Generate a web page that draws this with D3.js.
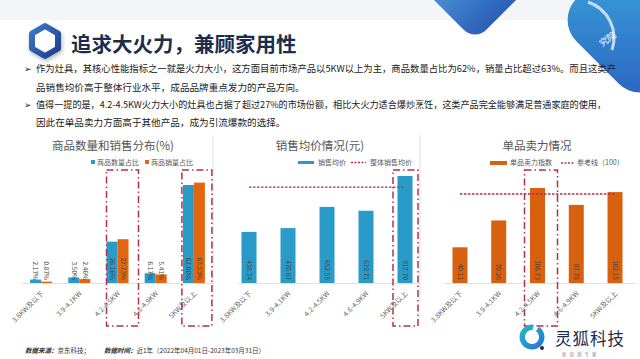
<!DOCTYPE html>
<html><head><meta charset="utf-8">
<script src="https://cdn.jsdelivr.net/npm/d3@7"></script>
<style>
html,body{margin:0;padding:0;background:#fff;}
svg{display:block;font-family:"Noto Sans CJK SC","Noto Sans",sans-serif;}
</style></head>
<body><svg id="c" width="640" height="359"></svg>
<script>
// ---------- data ----------
const categories = ["3.8KW及以下","3.9-4.1KW","4.2-4.5KW","4.6-4.9KW","5KW及以上"];
const countShare = [2.17, 3.50, 26.16, 6.17, 62.00];   // 商品数量占比 (%)
const salesShare = [0.87, 2.46, 27.73, 5.41, 63.53];   // 商品销量占比 (%)
const avgPrice   = [438.34, 470.87, 652.55, 619.71, 917.70]; // 销售均价 (元)
const overallAvgPrice = 823;                            // 整体销售均价 (estimated)
const powerIndex = [40.11, 70.26, 106.73, 87.76, 102.15]; // 单品卖力指数
const referenceLine = 100;
const titleText = "追求大火力，兼顾家用性";
const bulletLines = [
  ["➢","作为灶具，其核心性能指标之一就是火力大小，这方面目前市场产品以5KW以上为主，商品数量占比为62%，销量占比超过63%。而且这类产"],
  ["","品销售均价高于整体行业水平，成品品牌重点发力的产品方向。"],
  ["➢","值得一提的是，4.2-4.5KW火力大小的灶具也占据了超过27%的市场份额，相比大火力适合爆炒烹饪，这类产品完全能够满足普通家庭的使用，"],
  ["","因此在单品卖力方面高于其他产品，成为引流爆款的选择。"]
];

const BLUE = "#2a9bc8", ORANGE = "#e2660f", ORANGE3 = "#d8600f", BOXRED = "#b3304c";
const svg = d3.select("#c");

// ---------- decorations ----------
const defs = svg.append("defs");
const g2 = defs.append("linearGradient").attr("id","gDeco2").attr("x1","0").attr("y1","0").attr("x2","1").attr("y2","1");
g2.append("stop").attr("offset","0").attr("stop-color","#3fb0e0");
g2.append("stop").attr("offset","1").attr("stop-color","#2a62c0");
const g5 = defs.append("linearGradient").attr("id","gTop").attr("x1","0").attr("y1","0").attr("x2","1").attr("y2","0");
g5.append("stop").attr("offset","0").attr("stop-color","#5aa8ea");
g5.append("stop").attr("offset","1").attr("stop-color","#2b5fb6");
const g3 = defs.append("linearGradient").attr("id","gHex").attr("x1","0").attr("y1","0").attr("x2","1").attr("y2","1");
g3.append("stop").attr("offset","0").attr("stop-color","#3a78d0");
g3.append("stop").attr("offset","1").attr("stop-color","#1c3f86");
const g4 = defs.append("linearGradient").attr("id","gLogo").attr("x1","0").attr("y1","0").attr("x2","1").attr("y2","1");
g4.append("stop").attr("offset","0").attr("stop-color","#1fc0c0");
g4.append("stop").attr("offset","1").attr("stop-color","#2a6fd0");
const sh = defs.append("filter").attr("id","shadow").attr("x","-50%").attr("y","-50%").attr("width","200%").attr("height","200%");
sh.append("feDropShadow").attr("dx",1).attr("dy",2).attr("stdDeviation",2).attr("flood-color","#000").attr("flood-opacity",0.3);

// top background tint
svg.append("rect").attr("x",0).attr("y",0).attr("width",640).attr("height",20).attr("fill","#f4f5f7");
// rounded downward-pointing shape at top centre (same construct as the right-hand shape)
svg.append("rect").attr("x",-46).attr("y",-46).attr("width",92).attr("height",92).attr("rx",16)
  .attr("fill","url(#gTop)").attr("transform","translate(475,-24) rotate(45)");
// right circle shape
svg.append("rect").attr("x",-60).attr("y",-60).attr("width",120).attr("height",120).attr("rx",30)
  .attr("fill","url(#gDeco2)").attr("transform","translate(640,20) rotate(45)");
svg.append("path").attr("d","M 588 2 A 38 38 0 0 1 612 50").attr("fill","none").attr("stroke","#fff").attr("stroke-opacity",0.7).attr("stroke-width",3);
svg.append("text").attr("x",602).attr("y",47).attr("fill","#fff").attr("font-size",9).attr("transform","rotate(-35,602,47)").text("究院");

// hexagon icon
const hexPts = d3.range(6).map(i=>{const a=Math.PI/3*i - Math.PI/2; return [45+15*Math.cos(a), 41+15*Math.sin(a)];});
svg.append("polygon").attr("points",hexPts.map(p=>p.join(",")).join(" "))
  .attr("fill","#fff").attr("stroke","url(#gHex)").attr("stroke-width",6).attr("stroke-linejoin","round").attr("filter","url(#shadow)");

svg.append("text").attr("x",71).attr("y",52).attr("font-size",20.5).attr("font-weight","bold")
  .attr("fill","#1c2d4c").text(titleText);

// bullets
const lineY = [72, 91, 108, 126];
bulletLines.forEach((l,i)=>{
  if(l[0]) svg.append("text").attr("x",24).attr("y",lineY[i]).attr("font-size",9).attr("fill","#222").attr("font-family","DejaVu Sans").text(l[0]);
  const t = svg.append("text").attr("x",36).attr("y",lineY[i]).attr("font-size",9.6).attr("fill","#222").text(l[1]);
  if(i===0) t.attr("textLength",580).attr("lengthAdjust","spacingAndGlyphs");
  if(i===2) t.attr("textLength",570).attr("lengthAdjust","spacingAndGlyphs");
});

// separators
[213, 420].forEach(x=>svg.append("line").attr("x1",x).attr("x2",x).attr("y1",135).attr("y2",300).attr("stroke","#e2e2e2").attr("stroke-width",1));

const baseY = 283;
function xAxisLabels(x, x0, x1){
  svg.append("line").attr("x1",x0).attr("x2",x1).attr("y1",baseY+0.5).attr("y2",baseY+0.5).attr("stroke","#e0e0e0");
  categories.forEach(c=>{
    const cx = x(c)+x.bandwidth()/2 + 3;
    svg.append("text").attr("transform",`translate(${cx},${baseY+11}) rotate(-45)`)
      .attr("text-anchor","end").attr("font-size",7).attr("fill","#666").text(c);
  });
}
function box(x, cat, dl, dr){
  const cx = x(cat)+x.bandwidth()/2;
  svg.append("rect").attr("x",cx+dl).attr("y",170).attr("width",dr-dl).attr("height",156)
    .attr("fill","none").attr("stroke",BOXRED).attr("stroke-width",1.5).attr("stroke-dasharray","7,3,1.5,3");
}
function vlabel(x, y, txt){
  svg.append("text").attr("transform",`translate(${x},${y}) rotate(90)`)
    .attr("text-anchor","end").attr("dy","0.35em").attr("font-size",6.5).attr("fill","#444").text(txt);
}

// ---------- chart 1 ----------
const x1 = d3.scaleBand().domain(categories).range([22,213]);
const y1 = d3.scaleLinear().domain([0,100]).range([baseY, baseY-158]);
const bw1 = 11;
svg.append("text").attr("x",113).attr("y",150).attr("text-anchor","middle").attr("font-size",11.5).attr("fill","#555").text("商品数量和销售分布(%)");
svg.append("rect").attr("x",91).attr("y",160).attr("width",4).attr("height",4).attr("fill",BLUE);
svg.append("text").attr("x",97).attr("y",165).attr("font-size",7).attr("fill","#555").text("商品数量占比");
svg.append("rect").attr("x",145).attr("y",160).attr("width",4).attr("height",4).attr("fill",ORANGE);
svg.append("text").attr("x",151).attr("y",165).attr("font-size",7).attr("fill","#555").text("商品销量占比");
xAxisLabels(x1, 22, 213);
categories.forEach((c,i)=>{
  const cx = x1(c)+x1.bandwidth()/2;
  svg.append("rect").attr("x",cx-bw1).attr("y",y1(countShare[i])).attr("width",bw1).attr("height",baseY-y1(countShare[i])).attr("fill",BLUE);
  svg.append("rect").attr("x",cx).attr("y",y1(salesShare[i])).attr("width",bw1).attr("height",baseY-y1(salesShare[i])).attr("fill",ORANGE);
  vlabel(cx-bw1/2, baseY-3, countShare[i].toFixed(2)+"%");
  vlabel(cx+bw1/2, baseY-3, salesShare[i].toFixed(2)+"%");
});
box(x1, "4.2-4.5KW", -11, 21);
box(x1, "5KW及以上", -12, 18);

// ---------- chart 2 ----------
const x2 = d3.scaleBand().domain(categories).range([229.5,424.5]);
const y2 = d3.scaleLinear().domain([0,1000]).range([baseY, baseY-116.6]);
const bw2 = 15;
svg.append("text").attr("x",320).attr("y",150).attr("text-anchor","middle").attr("font-size",11.5).attr("fill","#555").text("销售均价情况(元)");
svg.append("rect").attr("x",298).attr("y",161).attr("width",16).attr("height",3).attr("fill",BLUE);
svg.append("text").attr("x",318).attr("y",165).attr("font-size",7).attr("fill","#555").text("销售均价");
svg.append("line").attr("x1",351).attr("x2",366).attr("y1",162.5).attr("y2",162.5).attr("stroke",BOXRED).attr("stroke-width",1.5).attr("stroke-dasharray","2,1.5");
svg.append("text").attr("x",370).attr("y",165).attr("font-size",7).attr("fill","#555").text("整体销售均价");
xAxisLabels(x2, 238, 420);
categories.forEach((c,i)=>{
  const cx = x2(c)+x2.bandwidth()/2;
  svg.append("rect").attr("x",cx-bw2/2).attr("y",y2(avgPrice[i])).attr("width",bw2).attr("height",baseY-y2(avgPrice[i])).attr("fill",BLUE);
  vlabel(cx, baseY-3, avgPrice[i].toFixed(2));
});
{
  const xa = x2(categories[0])+x2.bandwidth()/2, xb = x2(categories[4])+x2.bandwidth()/2;
  svg.append("line").attr("x1",xa).attr("x2",xb).attr("y1",y2(overallAvgPrice)).attr("y2",y2(overallAvgPrice))
    .attr("stroke",BOXRED).attr("stroke-width",1.3).attr("stroke-dasharray","2.5,1.5");
}
box(x2, "5KW及以上", -12, 13);

// ---------- chart 3 ----------
const x3 = d3.scaleBand().domain(categories).range([440.6,634.4]);
const y3 = d3.scaleLinear().domain([0,120]).range([baseY, baseY-106.8]);
const bw3 = 15;
svg.append("text").attr("x",537).attr("y",150).attr("text-anchor","middle").attr("font-size",11.5).attr("fill","#555").text("单品卖力情况");
svg.append("rect").attr("x",490).attr("y",161).attr("width",17).attr("height",4).attr("fill",ORANGE3);
svg.append("text").attr("x",510).attr("y",165).attr("font-size",7).attr("fill","#555").text("单品卖力指数");
svg.append("line").attr("x1",561).attr("x2",574).attr("y1",163).attr("y2",163).attr("stroke",BOXRED).attr("stroke-width",1.5).attr("stroke-dasharray","2,1.5");
svg.append("text").attr("x",577).attr("y",165).attr("font-size",7).attr("fill","#555").text("参考线（100）");
xAxisLabels(x3, 445, 635);
categories.forEach((c,i)=>{
  const cx = x3(c)+x3.bandwidth()/2;
  svg.append("rect").attr("x",cx-bw3/2).attr("y",y3(powerIndex[i])).attr("width",bw3).attr("height",baseY-y3(powerIndex[i])).attr("fill",ORANGE3);
  vlabel(cx, baseY-3, powerIndex[i].toFixed(2));
});
{
  const xa = x3(categories[0])+x3.bandwidth()/2, xb = x3(categories[4])+x3.bandwidth()/2;
  svg.append("line").attr("x1",xa).attr("x2",xb).attr("y1",y3(referenceLine)).attr("y2",y3(referenceLine))
    .attr("stroke",BOXRED).attr("stroke-width",1.3).attr("stroke-dasharray","2.5,1.5");
}
box(x3, "4.2-4.5KW", -13, 20);

// ---------- footer ----------
const ft = svg.append("text").attr("x",25).attr("y",353).attr("font-size",6.5).attr("fill","#333");
ft.append("tspan").attr("font-weight","bold").attr("font-style","italic").text("数据来源：");
ft.append("tspan").text("京东科技；");
ft.append("tspan").attr("dx",14).attr("font-weight","bold").attr("font-style","italic").text("数据时间：");
ft.append("tspan").text("近1年（2022年04月01日-2023年03月31日）");

// logo
svg.append("path").attr("d",d3.arc().innerRadius(7).outerRadius(12.5).startAngle(0.6).endAngle(2*Math.PI+0.1)())
  .attr("transform","translate(532,337)").attr("fill","url(#gLogo)");
svg.append("circle").attr("cx",542).attr("cy",348).attr("r",2).attr("fill","#1a2b50");
svg.append("text").attr("x",555).attr("y",345).attr("font-size",16.5).attr("fill","#1c2b4e").attr("letter-spacing",1).text("灵狐科技");
svg.append("text").attr("x",562).attr("y",356).attr("font-size",4.5).attr("fill","#888").attr("letter-spacing",3).text("新营销专家");
</script></body></html>
